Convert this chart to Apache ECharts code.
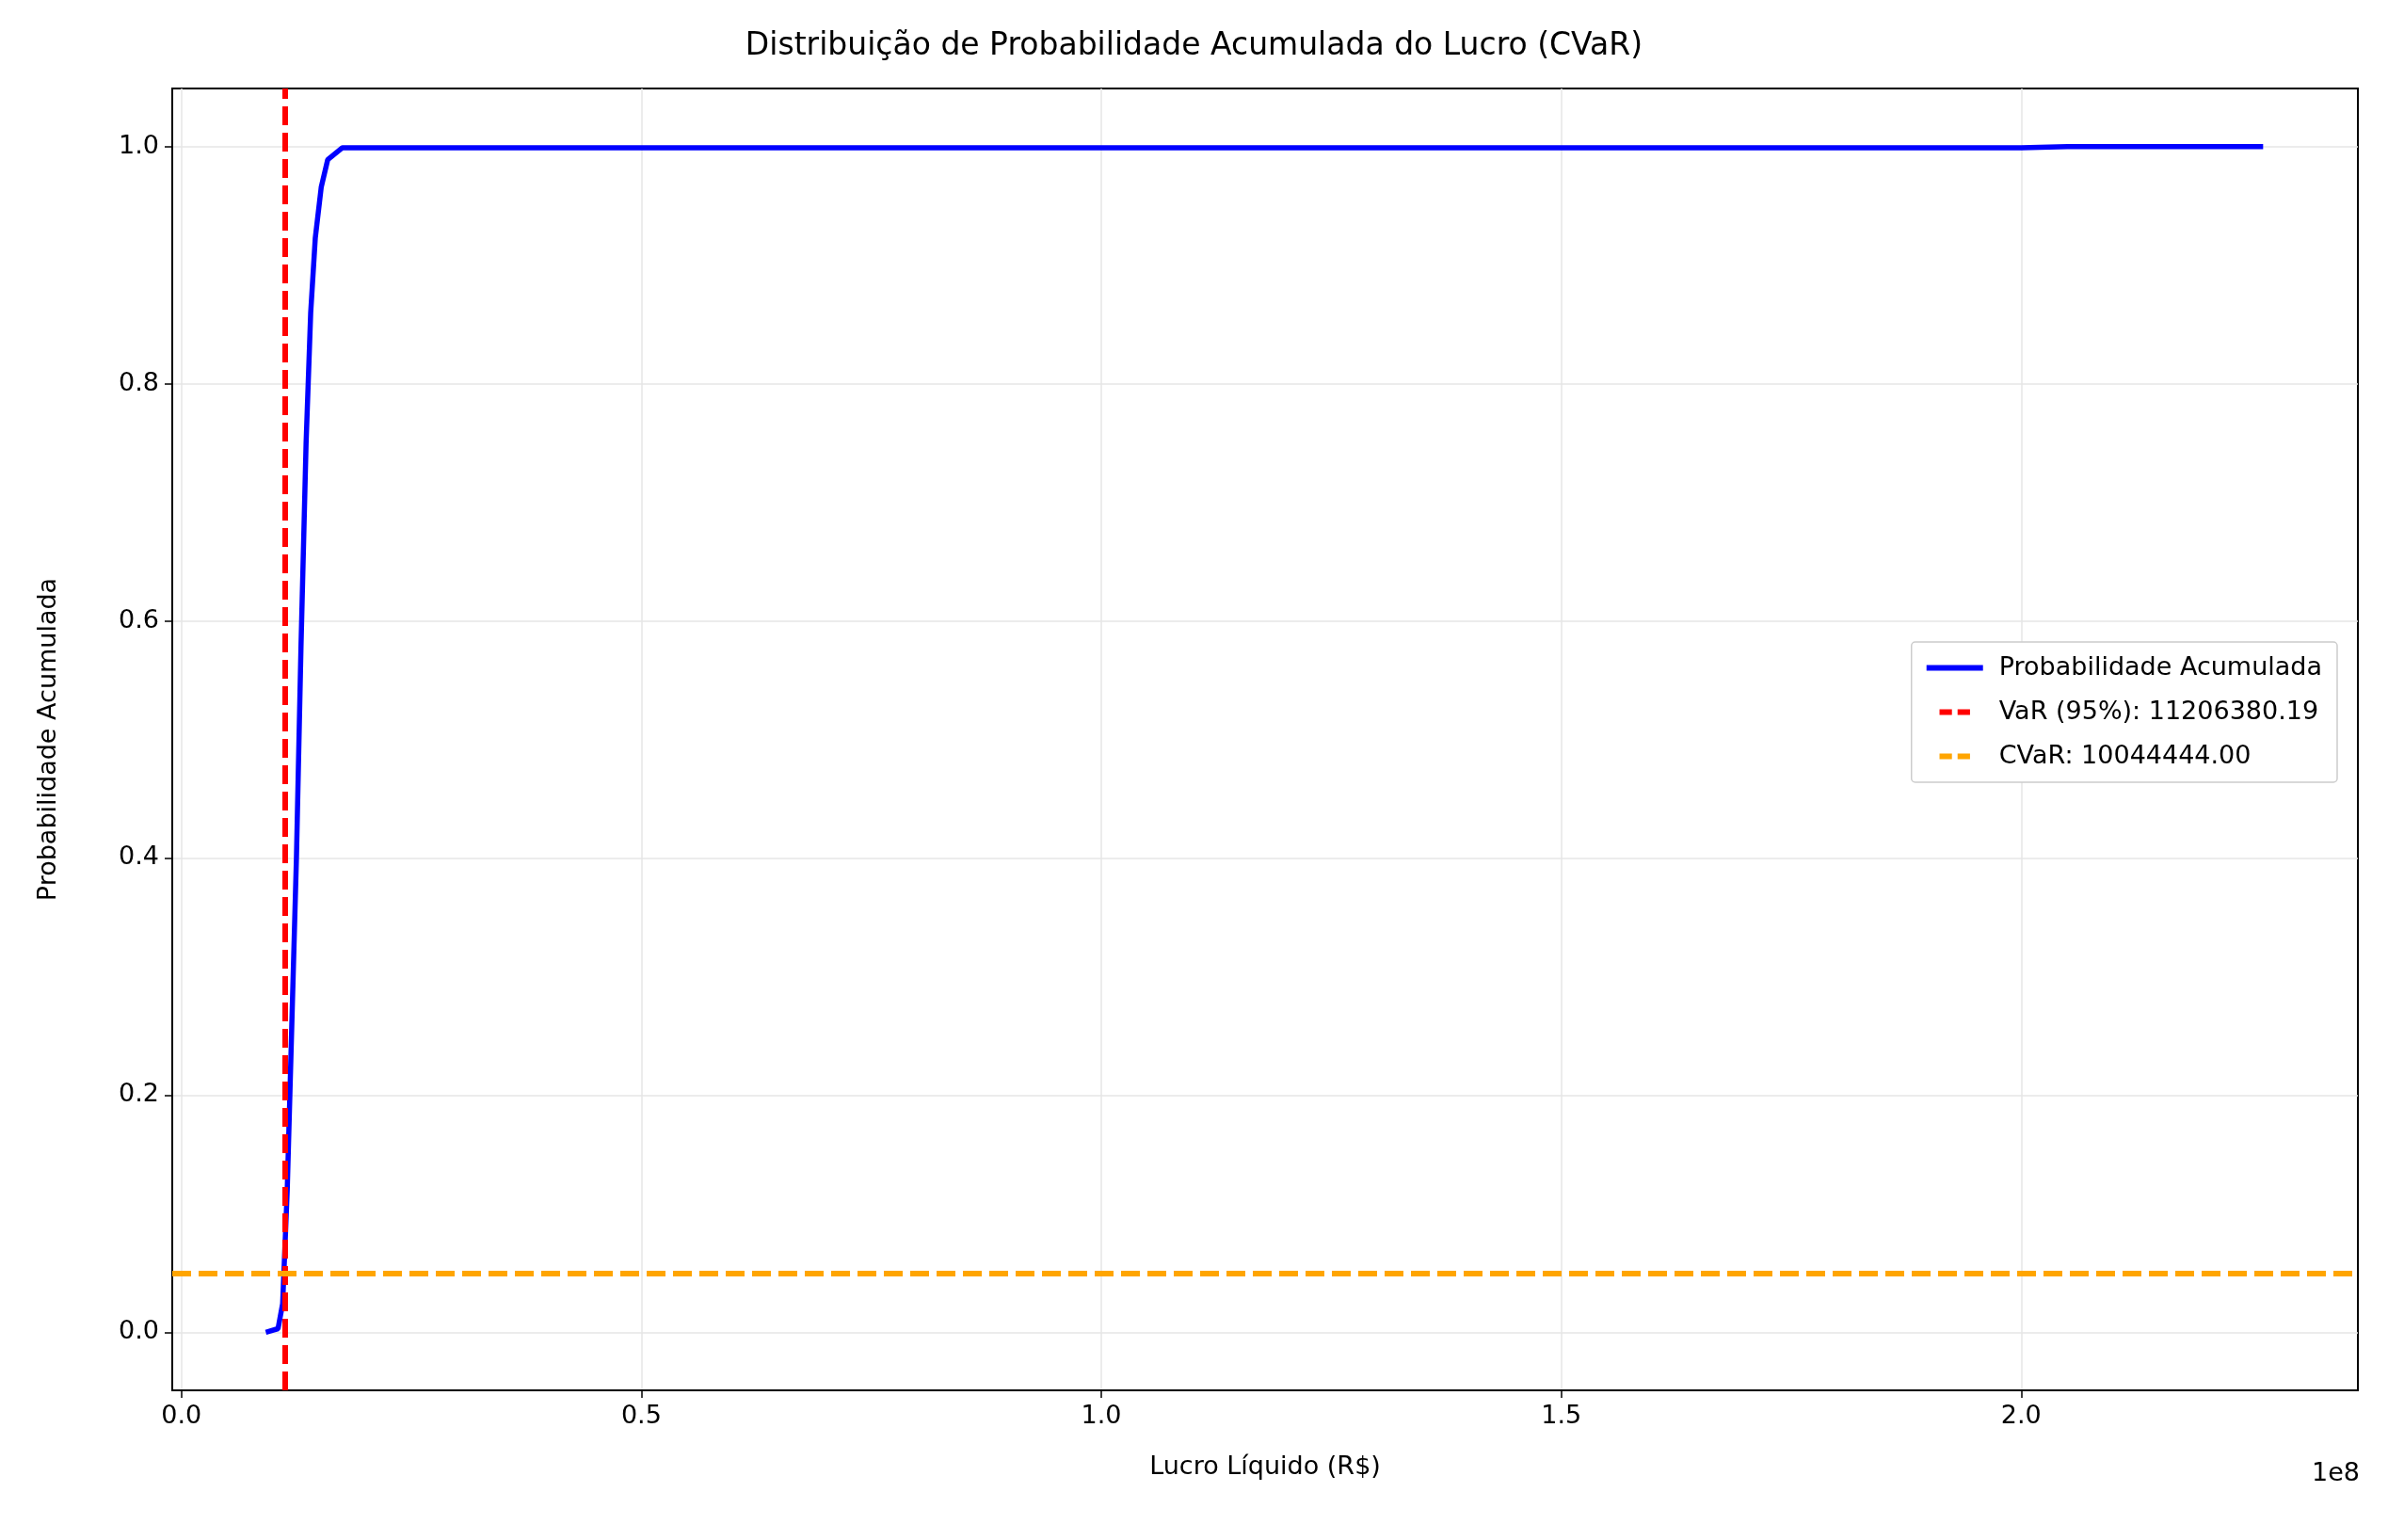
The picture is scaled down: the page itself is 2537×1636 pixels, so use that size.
<!DOCTYPE html>
<html>
<head>
<meta charset="utf-8" />
<title>CVaR</title>
<style>html,body{margin:0;padding:0;background:#fff}#chart{width:2537px;height:1636px}</style>
</head>
<body>
<div id="chart"></div>
<script src="https://cdn.jsdelivr.net/npm/echarts@6/dist/echarts.min.js"></script>
<script>
// curva de probabilidade acumulada
var lucro = [9.17e6, 1.05e7, 1.10e7, 1.15e7, 1.20e7, 1.25e7, 1.30e7, 1.355e7, 1.405e7, 1.455e7, 1.52e7, 1.59e7, 1.75e7, 5.0e7, 1.0e8, 1.5e8, 2.0e8, 2.05e8, 2.263e8];
var prob = [0.0, 0.003, 0.024, 0.12, 0.26, 0.40, 0.58, 0.75, 0.86, 0.923, 0.966, 0.989, 0.999, 0.999, 0.999, 0.999, 0.999, 1.0, 1.0];
var varValue = 11206380.19;
var cvarValue = 10044444.00;
var cvarLevel = 0.05;
var xTicks = [0, 0.5e8, 1.0e8, 1.5e8, 2.0e8];
var yTicks = [0, 0.2, 0.4, 0.6, 0.8, 1.0];

var fs = 27;
var font = 'DejaVu Sans';
var dash = 'path://M0,0H22V10H0ZM32,0H54V10H32Z';
var chart = echarts.init(document.getElementById('chart'));
var pts = [];
for (var i = 0; i < lucro.length; i++) pts.push([lucro[i], prob[i]]);

var option = {
    animation: false,
    textStyle: { fontFamily: font },
    title: {
        text: 'Distribuição de Probabilidade Acumulada do Lucro (CVaR)',
        left: 'center', top: 28,
        textStyle: { fontSize: 33, fontWeight: 'normal', color: '#000', fontFamily: font }
    },
    grid: { left: 183, right: 32, top: 94, bottom: 159, show: true, borderColor: '#000', borderWidth: 2, backgroundColor: 'transparent' },
    legend: {
        right: 54, top: 682, orient: 'vertical',
        backgroundColor: '#fff', borderColor: '#ccc', borderWidth: 1.5, borderRadius: 4,
        padding: [14, 16], itemGap: 20, itemWidth: 60, itemHeight: 6,
        textStyle: { fontSize: fs, color: '#000', fontFamily: font, padding: [0, 0, 0, 12] },
        data: [
            { name: 'Probabilidade Acumulada', icon: 'rect' },
            { name: 'VaR (95%): ' + varValue.toFixed(2), icon: dash },
            { name: 'CVaR: ' + cvarValue.toFixed(2), icon: dash }
        ]
    },
    xAxis: {
        type: 'value', min: -1e6, max: 2.366e8,
        name: 'Lucro Líquido (R$)', nameLocation: 'middle', nameGap: 68,
        nameTextStyle: { fontSize: fs, color: '#000', fontFamily: font },
        axisLine: { onZero: false, lineStyle: { color: '#000', width: 2 } },
        axisTick: { show: true, customValues: xTicks, length: 8, lineStyle: { color: '#000', width: 1.5 } },
        axisLabel: { customValues: xTicks, fontSize: fs, color: '#000', margin: 14,
            formatter: function (v) { return (v / 1e8).toFixed(1); } },
        splitLine: { show: true, customValues: xTicks, lineStyle: { color: '#e6e6e6', width: 1.5 } }
    },
    yAxis: {
        type: 'value', min: -0.049, max: 1.049,
        name: 'Probabilidade Acumulada', nameLocation: 'middle', nameGap: 118,
        nameTextStyle: { fontSize: fs, color: '#000', fontFamily: font },
        axisLine: { show: true, onZero: false, lineStyle: { color: '#000', width: 2 } },
        axisTick: { show: true, customValues: yTicks, length: 8, lineStyle: { color: '#000', width: 1.5 } },
        axisLabel: { customValues: yTicks, fontSize: fs, color: '#000', margin: 14,
            formatter: function (v) { return v.toFixed(1); } },
        splitLine: { show: true, customValues: yTicks, lineStyle: { color: '#e6e6e6', width: 1.5 } }
    },
    graphic: [{ type: 'text', right: 30, top: 1552, style: { text: '1e8', fontSize: fs, fill: '#000', fontFamily: font } }],
    series: [{
        name: 'Probabilidade Acumulada', type: 'line', data: pts,
        showSymbol: false, z: 3,
        lineStyle: { color: '#0000ff', width: 5.5 }, itemStyle: { color: '#0000ff' }
    }, {
        name: 'VaR (95%): ' + varValue.toFixed(2), type: 'line', data: [],
        itemStyle: { color: '#ff0000' }, lineStyle: { color: '#ff0000', type: 'dashed', width: 6 },
        markLine: { silent: true, symbol: 'none', label: { show: false },
            lineStyle: { color: '#ff0000', type: [20, 8], width: 6 },
            data: [{ xAxis: varValue }] }
    }, {
        name: 'CVaR: ' + cvarValue.toFixed(2), type: 'line', data: [],
        itemStyle: { color: '#ffa500' }, lineStyle: { color: '#ffa500', type: 'dashed', width: 6 },
        markLine: { silent: true, symbol: 'none', label: { show: false },
            lineStyle: { color: '#ffa500', type: [20, 8], width: 6 },
            data: [{ yAxis: cvarLevel }] }
    }]
};
chart.setOption(option);
</script>
</body>
</html>
